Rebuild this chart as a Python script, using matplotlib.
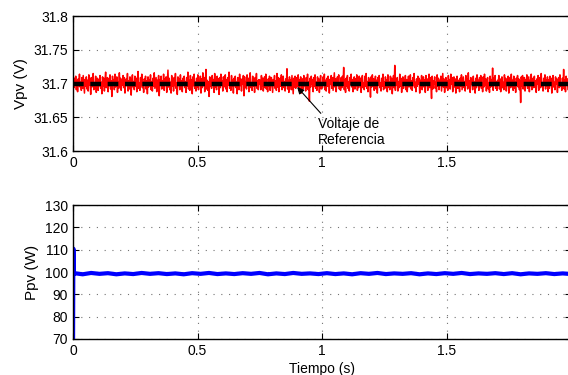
import numpy as np
import matplotlib.pyplot as plt

plt.rcParams['font.family'] = ['Liberation Sans', 'DejaVu Sans']
plt.rcParams['font.size'] = 10

# Datos
v_ref = 31.7
# transitorio inicial de Vpv (fuera de escala)
vpv_trans_t = [0.0, 0.0005]
vpv_trans = [31.2, 32.3]
# ruido de Vpv alrededor de la referencia (mV)
vpv_dev_mv = [
    3, -6, 8, -2, 11, -9, 4, -12, 7, -3, 14, -5, 2, -10, 9, -7, 12, -1, -14, 6,
    -4, 10, -8, 5, -11, 13, -2, 7, -16, 9, -5, 3, 15, -9, 1, -6, 11, -13, 4, 8,
    -10, 6, -3, 12, -7, 2, -15, 10, -4, 8, -11, 5, 17, -6, -1, 9, -12, 7, -3, 13,
    -8, 4, -19, 11, -2, 6, -9, 14, -5, 1, 10, -13, 3, -7, 16, -4, 8, -10, 5, -2,
    12, -6, 9, -14, 2, 7, -3, 15, -11, 4, -8, 10, -1, -17, 6, 13, -5, 3, -9, 11,
    -4, 8, -12, 5, 18, -7, 1, -10, 9, -3, 14, -6, 2, -13, 7, -1, 11, -8, 4, -15,
    10, -5, 6, -2, 13, -9, 3, -11, 8, -4, 16, -7, 1, 9, -12, 5, -3, 12, -18, 6,
    -2, 11, -8, 4, -6, 14, -10, 7, -1, 10, -13, 3, 20, -5, 8, -9, 2, -14, 12, -4,
    6, -11, 9, -3, 15, -7, 1, -16, 10, -2, 7, -9, 13, -5, 4, -12, 8, -1, 11, -6,
    3, -13, 9, -4, 17, -8, 5, -10, 12, -2, 6, -15, 10, -3, 14, -7, 2, -11, 8, -5,
    13, -9, 4, -1, 11, -14, 7, -6, 16, -3, 9, -12, 2, 21, -8, 5, -10, 3, -19, 10,
    -4, 8, -7, 12, -2, 6, -13, 15, -5, 1, -9, 11, -3, 7, -16, 9, -6, 14, -1, 4,
    -11, 10, -5, 3, 13, -8, 6, -12, 9, -2, 17, -7, 1, -10, 12, -4, 5, -14, 8, -3,
    11, -6, 2, -15, 9, 4, -9, 14, -3, 7, -11, 6, -1, 12, -18, 10, -5, 3, -8, 13,
    -2, 8, -12, 5, 16, -6, 1, -10, 11, -4, 7, -13, 9, -3, 15, -7, 4, -9, 6, -1,
    5, -9, 12, -3, 8, -11, 2, 10, -6, 14, -8, 1, -12, 7, -4, 11, -10, 3, 9, -2,
    -13, 6, -1, 12, -7, 4, -10, 15, -5, 9, -12, 2, 8, -4, 13, -9, 0, 11, -6, 3,
    -11, 7, -2, 22, -8, 5, -13, 10, -3, 6, -9, 12, -1, -15, 8, -5, 11, -7, 2, 9,
    -4, 13, -10, 6, -2, 10, -14, 4, 7, -8, 12, -3, 1, -11, 9, -6, 14, -9, 3, -26,
    8, -5, 11, -1, 6, -12, 9, -4, 13, -7, 2, -10, 10, -3, 7, -13, 4, 12, -8, 1,
    -6, 10, -2, 14, -9, 5, -11, 8, -4, 11, 3, -14, 6, -1, 12, -7, 9, -10, 2, 16,
    -5, 7, -12, 4, 10, -3, 13, -8, 1, -10, 9, -6, 11, -2, 24, -9, 5, -13, 8, -4,
    12, -7, 3, -11, 9, -1, 14, -5, 6, -12, 2, 10, -8, 7, -3, 13, -10, 4, -6, 11,
    -2, 8, -13, 5, 12, -6, 1, -9, 11, -4, 15, -7, 3, -12, 9, -1, 6, -20, 10, -5,
    13, -3, 7, -10, 2, 11, -8, 5, -14, 9, -2, 12, -6, 1, -11, 8, -4, 14, -9, 3,
    -7, 10, -1, 6, -12, 13, -5, 2, -9, 11, -3, 8, -15, 4, 12, -6, 27, -10, 7, -2,
    9, -11, 3, -6, 14, -4, 8, -13, 1, 10, -7, 5, -2, 12, -9, 6, -12, 2, 11, -5,
    -1, 13, -8, 4, -10, 9, -3, 15, -6, 2, -12, 7, -4, 11, -1, 8, -14, 5, -7, 12,
    -9, 3, 10, -5, 6, -13, 12, -2, 7, -10, 1, 14, -6, 9, -3, -22, 11, -8, 4, -1,
    10, -7, 2, -12, 13, -4, 8, -9, 5, -1, 11, -11, 3, 15, -5, 7, -13, 1, 9, -6,
    4, -10, 12, -3, 6, -8, 14, -1, 9, -12, 2, 10, -5, 7, -14, 3, 11, -7, 5, -2,
    -12, 8, -4, 13, -9, 1, 10, -6, 3, -11, 12, -2, 7, -8, 16, -5, 4, -13, 9, -1,
    6, -9, 11, -3, 2, -14, 8, -6, 13, -1, 5, -10, 9, -4, 12, -7, 1, -12, 10, -5,
    14, -2, 7, -11, 4, 9, -8, 1, -13, 11, -5, 6, -3, 23, -10, 8, -2, 12, -7, 3,
    -10, 5, -1, 12, -8, 7, -12, 3, 10, -6, 2, -9, 13, -4, 8, -11, 6, -2, 11, -14,
    1, 9, -6, 14, -3, 5, -10, 11, -7, 2, -13, 8, -1, 12, -5, 7, -9, 4, -28, 10,
    -4, 12, -8, 3, 9, -11, 6, -2, 13, -7, 1, 10, -12, 5, -3, 14, -9, 2, 8, -6,
    11, -5, 4, -13, 7, -1, 12, -10, 3, 9, -6, 15, -4, 1, -11, 8, -2, 13, -8, 5,
    -3, 10, -12, 6, -7, 11, -2, 8, -14, 4, 12, -5, 2, -9, 10, -1, 7, -13, 3, 9,
    -6, 13, -4, 1, -10, 8, -3, 21, -8, 5, -12, 11, -1, 7, -9, 3, 12, -7, 6, -2,
]

# transitorio inicial de Ppv
ppv_trans_t = [0.0, 0.0015, 0.004]
ppv_trans = [60, 110.5, 99.0]
ppv_mean = 99.3
ppv_dev = [
    0.2, -0.3, 0.3, -0.1, 0.2, -0.3, 0.1, -0.2, 0.3, -0.1, 0.2, -0.2, 0.1, -0.3, 0.2,
    -0.1, 0.3, -0.2, 0.1, -0.2, 0.2, -0.1, 0.3, -0.3, 0.1, -0.2, 0.3, -0.1, 0.1, -0.2,
    0.2, -0.2, 0.1, -0.3, 0.2, -0.1, 0.3, -0.2, 0.1, -0.1, 0.2, -0.3, 0.1, -0.2, 0.2,
    -0.1, 0.3, -0.2, 0.1, -0.1, 0.2, -0.2, 0.2, -0.3, 0.1, -0.1, 0.2, -0.2, 0.1, -0.2,
]

xticks = [0, 0.5, 1, 1.5, 2]
xticklabels = ['0', '0.5', '1', '1.5', '2']

t_v = np.concatenate([vpv_trans_t, np.linspace(0.001, 2, len(vpv_dev_mv))])
vpv = np.concatenate([vpv_trans, v_ref + np.array(vpv_dev_mv) / 1000.0])
t_p = np.concatenate([ppv_trans_t, np.linspace(0.005, 2, len(ppv_dev))])
ppv = np.concatenate([ppv_trans, ppv_mean + np.array(ppv_dev)])

fig = plt.figure(figsize=(5.68, 3.75), dpi=100)
ax1 = fig.add_axes([0.1285, 0.597, 0.877, 0.36])
ax2 = fig.add_axes([0.1285, 0.096, 0.877, 0.357])


def estilo(ax):
    ax.set_xlim(0, 2)
    ax.set_xticks(xticks)
    ax.set_xticklabels(xticklabels)
    ax.grid(True, color='0.45', linestyle=(0, (1, 6)), linewidth=0.8)
    ax.tick_params(direction='in', top=True, right=True, length=4, labelsize=10)
    for s in ax.spines.values():
        s.set_linewidth(1.0)


# Vpv
ax1.plot(t_v, vpv, color='red', linewidth=1.1)
ax1.plot([0, 2], [v_ref, v_ref], color='black', linewidth=3.2,
         linestyle=(0, (2.4, 1.5)), zorder=3)
ax1.set_ylim(31.6, 31.8)
ax1.set_yticks([31.6, 31.65, 31.7, 31.75, 31.8])
ax1.set_yticklabels(['31.6', '31.65', '31.7', '31.75', '31.8'])
ax1.set_ylabel('Vpv (V)', fontsize=11)
estilo(ax1)
ax1.annotate('', xy=(0.9, 31.695), xytext=(0.995, 31.656),
             arrowprops=dict(arrowstyle='-|>', color='black', lw=0.8,
                             mutation_scale=10, shrinkA=0, shrinkB=0), zorder=4)
ax1.text(0.985, 31.628, 'Voltaje de\nReferencia', fontsize=10, ha='left',
         va='center', linespacing=1.15)

# Ppv
ax2.plot(t_p, ppv, color='blue', linewidth=3.0)
ax2.set_ylim(70, 130)
ax2.set_yticks([70, 80, 90, 100, 110, 120, 130])
ax2.set_ylabel('Ppv (W)', fontsize=11)
ax2.set_xlabel('Tiempo (s)', fontsize=10, labelpad=3)
estilo(ax2)

fig.savefig('out.png', dpi=100)
